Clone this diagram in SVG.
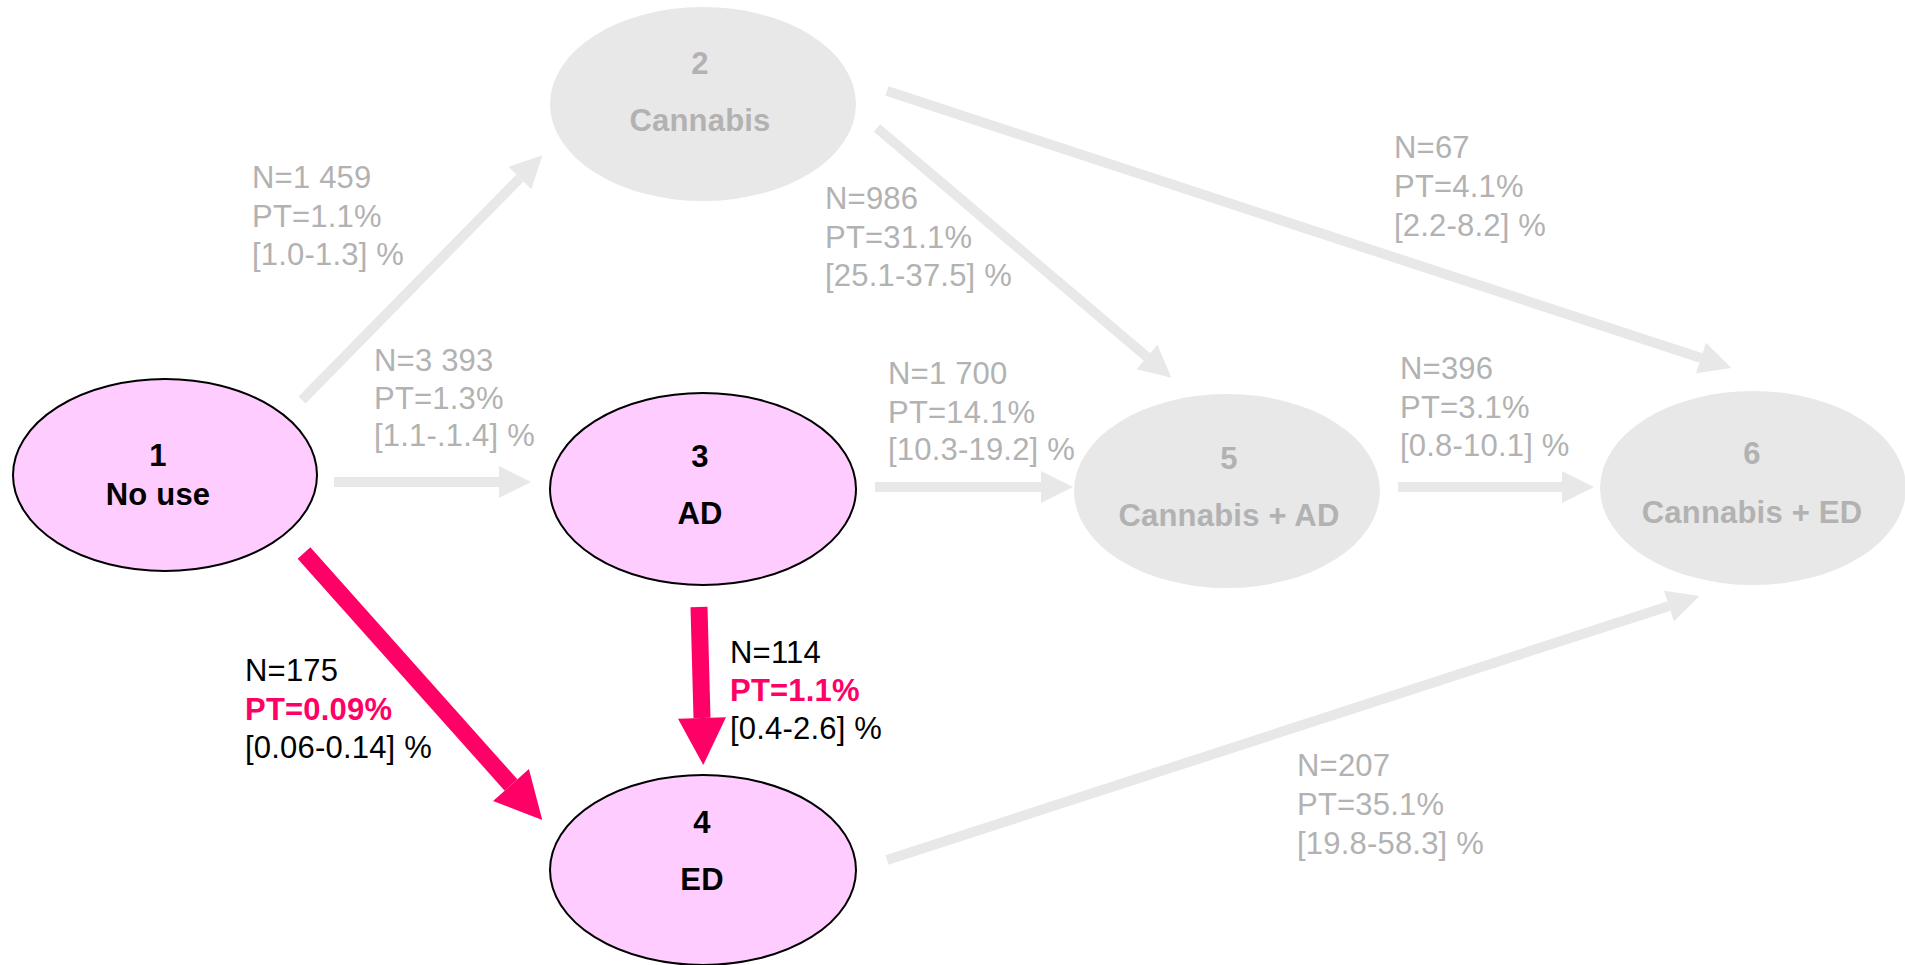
<svg xmlns="http://www.w3.org/2000/svg" width="1905" height="965" viewBox="0 0 1905 965">
<style>
.bg{fill:#ffffff}
.pink{fill:#ffccff;stroke:#000000;stroke-width:2}
.grey{fill:#e8e8e8;stroke:none}
.nt{font-family:"Liberation Sans",Arial,sans-serif;font-size:31px;font-weight:bold;text-anchor:middle;letter-spacing:0.2px}
.nt.k{fill:#000000}
.nt.g{fill:#b2b2b2}
.lb{font-family:"Liberation Sans",Arial,sans-serif;font-size:31px;letter-spacing:0.2px}
.lb.g{fill:#b2b2b2}
.lb.k{fill:#000000}
.lb .hp{fill:#ff0066;font-weight:bold}
.ga{stroke:#e8e8e8;stroke-width:10;fill:none;marker-end:url(#hg)}
.pa{stroke:#ff0066;stroke-width:17;fill:none;marker-end:url(#hp)}
</style>
<defs>
<marker id="hg" markerUnits="userSpaceOnUse" viewBox="0 -16 32 32" refX="0" refY="0" markerWidth="32" markerHeight="32" orient="auto" overflow="visible">
<path d="M0,-16 L32,0 L0,16 z" fill="#e8e8e8"/>
</marker>
<marker id="hp" markerUnits="userSpaceOnUse" viewBox="0 -24 47 48" refX="0" refY="0" markerWidth="47" markerHeight="48" orient="auto" overflow="visible">
<path d="M0,-24 L47,0 L0,24 z" fill="#ff0066"/>
</marker>
</defs>
<rect class="bg" x="0" y="0" width="1905" height="965"/>
<g id="connectors">
<line id="e12" class="ga" x1="302" y1="400" x2="520" y2="178"/>
<line id="e13" class="ga" x1="334" y1="482" x2="499" y2="482"/>
<line id="e35" class="ga" x1="875" y1="487" x2="1041" y2="487"/>
<line id="e56" class="ga" x1="1398" y1="487" x2="1562" y2="487"/>
<line id="e25" class="ga" x1="877" y1="128" x2="1147" y2="357"/>
<line id="e26" class="ga" x1="887" y1="91" x2="1701" y2="358"/>
<line id="e46" class="ga" x1="887" y1="860" x2="1669" y2="606"/>
<line id="e14" class="pa" x1="304" y1="553" x2="511" y2="785"/>
<line id="e34" class="pa" x1="699" y1="607" x2="702" y2="718"/>
</g>
<g id="node1">
<ellipse class="pink" cx="165" cy="475" rx="152" ry="96"/>
<text class="nt k" x="158" y="466">1</text>
<text class="nt k" x="158" y="505">No use</text>
</g>
<g id="node2">
<ellipse class="grey" cx="703" cy="104" rx="153" ry="97"/>
<text class="nt g" x="700" y="74">2</text>
<text class="nt g" x="700" y="131">Cannabis</text>
</g>
<g id="node3">
<ellipse class="pink" cx="703" cy="489" rx="153" ry="96"/>
<text class="nt k" x="700" y="467">3</text>
<text class="nt k" x="700" y="524">AD</text>
</g>
<g id="node4">
<ellipse class="pink" cx="703" cy="870" rx="153" ry="95"/>
<text class="nt k" x="702" y="833">4</text>
<text class="nt k" x="702" y="890">ED</text>
</g>
<g id="node5">
<ellipse class="grey" cx="1227" cy="491" rx="153" ry="97"/>
<text class="nt g" x="1229" y="469">5</text>
<text class="nt g" x="1229" y="526">Cannabis + AD</text>
</g>
<g id="node6">
<ellipse class="grey" cx="1753" cy="488" rx="153" ry="97"/>
<text class="nt g" x="1752" y="464">6</text>
<text class="nt g" x="1752" y="523">Cannabis + ED</text>
</g>
<g id="labels">
<text class="lb g"><tspan x="252" y="188">N=1 459</tspan><tspan x="252" y="227">PT=1.1%</tspan><tspan x="252" y="265">[1.0-1.3] %</tspan></text>
<text class="lb g"><tspan x="374" y="371">N=3 393</tspan><tspan x="374" y="409">PT=1.3%</tspan><tspan x="374" y="446">[1.1-.1.4] %</tspan></text>
<text class="lb g"><tspan x="825" y="209">N=986</tspan><tspan x="825" y="248">PT=31.1%</tspan><tspan x="825" y="286">[25.1-37.5] %</tspan></text>
<text class="lb g"><tspan x="1394" y="158">N=67</tspan><tspan x="1394" y="197">PT=4.1%</tspan><tspan x="1394" y="236">[2.2-8.2] %</tspan></text>
<text class="lb g"><tspan x="888" y="384">N=1 700</tspan><tspan x="888" y="423">PT=14.1%</tspan><tspan x="888" y="460">[10.3-19.2] %</tspan></text>
<text class="lb g"><tspan x="1400" y="379">N=396</tspan><tspan x="1400" y="418">PT=3.1%</tspan><tspan x="1400" y="456">[0.8-10.1] %</tspan></text>
<text class="lb g"><tspan x="1297" y="776">N=207</tspan><tspan x="1297" y="815">PT=35.1%</tspan><tspan x="1297" y="854">[19.8-58.3] %</tspan></text>
<text class="lb k"><tspan x="245" y="681">N=175</tspan><tspan class="hp" x="245" y="720">PT=0.09%</tspan><tspan x="245" y="758">[0.06-0.14] %</tspan></text>
<text class="lb k"><tspan x="730" y="663">N=114</tspan><tspan class="hp" x="730" y="701">PT=1.1%</tspan><tspan x="730" y="739">[0.4-2.6] %</tspan></text>
</g>
</svg>
